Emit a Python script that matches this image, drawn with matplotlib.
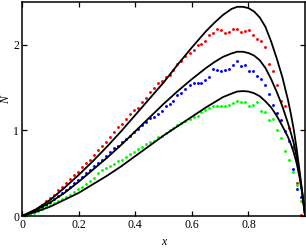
import matplotlib
matplotlib.use("Agg")
import matplotlib.pyplot as plt

plt.rcParams["font.family"] = ["Liberation Serif", "DejaVu Serif"]

# sampled points (shared x grid)
x_pts = [0.000, 0.014, 0.028, 0.042, 0.056, 0.070, 0.085, 0.099, 0.113, 0.127,
         0.141, 0.155, 0.169, 0.183, 0.197, 0.211, 0.225, 0.239, 0.254, 0.268,
         0.282, 0.296, 0.310, 0.324, 0.338, 0.352, 0.366, 0.380, 0.394, 0.408,
         0.423, 0.437, 0.451, 0.465, 0.479, 0.493, 0.507, 0.521, 0.535, 0.549,
         0.563, 0.577, 0.592, 0.606, 0.620, 0.634, 0.648, 0.662, 0.676, 0.690,
         0.704, 0.718, 0.732, 0.746, 0.761, 0.775, 0.789, 0.803, 0.817, 0.831,
         0.845, 0.859, 0.873, 0.887, 0.901, 0.915, 0.930, 0.944, 0.958, 0.972,
         0.986]

red_pts = [0.00, 0.01, 0.035, 0.065, 0.095, 0.13, 0.175, 0.21, 0.25, 0.30,
           0.34, 0.38, 0.43, 0.48, 0.52, 0.57, 0.62, 0.66, 0.71, 0.77,
           0.82, 0.87, 0.92, 0.98, 1.04, 1.08, 1.13, 1.19, 1.24, 1.26,
           1.33, 1.38, 1.45, 1.50, 1.55, 1.58, 1.62, 1.65, 1.71, 1.78,
           1.81, 1.87, 1.90, 1.94, 2.00, 2.01, 2.04, 2.12, 2.14, 2.19,
           2.17, 2.14, 2.15, 2.18, 2.19, 2.15, 2.16, 2.17, 2.11, 2.07,
           2.05, 1.98, 1.78, 1.70, 1.53, 1.35, 1.29, 1.03, 0.81, 0.39,
           0.01]

blue_pts = [0.00, 0.01, 0.03, 0.05, 0.075, 0.10, 0.13, 0.165, 0.20, 0.235,
            0.27, 0.30, 0.34, 0.38, 0.42, 0.46, 0.50, 0.54, 0.58, 0.62,
            0.66, 0.70, 0.75, 0.79, 0.82, 0.86, 0.90, 0.93, 0.98, 1.02,
            1.06, 1.10, 1.15, 1.16, 1.19, 1.23, 1.28, 1.31, 1.35, 1.41,
            1.44, 1.49, 1.53, 1.55, 1.55, 1.56, 1.59, 1.62, 1.72, 1.71,
            1.70, 1.71, 1.72, 1.76, 1.81, 1.75, 1.76, 1.69, 1.70, 1.64,
            1.60, 1.53, 1.43, 1.30, 1.20, 1.12, 0.99, 0.88, 0.55, 0.32,
            0.22]

green_pts = [0.00, 0.01, 0.025, 0.04, 0.06, 0.08, 0.10, 0.125, 0.15, 0.175,
             0.20, 0.225, 0.25, 0.28, 0.31, 0.34, 0.37, 0.41, 0.45, 0.50,
             0.54, 0.56, 0.58, 0.61, 0.64, 0.66, 0.69, 0.72, 0.75, 0.78,
             0.81, 0.84, 0.86, 0.88, 0.92, 0.94, 0.97, 1.00, 1.03, 1.06,
             1.09, 1.11, 1.13, 1.16, 1.17, 1.21, 1.24, 1.26, 1.28, 1.28,
             1.28, 1.29, 1.30, 1.32, 1.35, 1.33, 1.33, 1.29, 1.30, 1.33,
             1.23, 1.22, 1.12, 1.13, 1.00, 0.91, 0.76, 0.66, 0.51, 0.36,
             0.18]

# model curves
curve_x = [0.0, 0.05, 0.1, 0.15, 0.2, 0.25, 0.3, 0.35, 0.4, 0.45, 0.5, 0.55,
           0.6, 0.65, 0.68, 0.71, 0.74, 0.76, 0.78, 0.8, 0.82, 0.84, 0.86, 0.88,
           0.9, 0.92, 0.94, 0.95, 0.96, 0.97, 0.98, 0.99, 1.0]
curve_top = [0, 0.08, 0.19, 0.33, 0.48, 0.64, 0.81, 0.99, 1.18, 1.37, 1.56, 1.77,
             1.97, 2.16, 2.26, 2.35, 2.42, 2.445, 2.445, 2.43, 2.39, 2.32, 2.21, 2.04,
             1.84, 1.62, 1.35, 1.19, 1.01, 0.79, 0.54, 0.28, 0]
curve_mid = [0, 0.07, 0.16, 0.27, 0.40, 0.54, 0.68, 0.83, 0.99, 1.15, 1.31, 1.46,
             1.60, 1.73, 1.80, 1.86, 1.90, 1.92, 1.92, 1.905, 1.875, 1.82, 1.73, 1.60,
             1.45, 1.28, 1.08, 0.97, 0.85, 0.69, 0.50, 0.27, 0]
curve_low = [0, 0.05, 0.11, 0.19, 0.27, 0.37, 0.47, 0.58, 0.70, 0.82, 0.94, 1.05,
             1.16, 1.27, 1.33, 1.39, 1.43, 1.455, 1.46, 1.455, 1.435, 1.40, 1.34, 1.27,
             1.17, 1.05, 0.92, 0.84, 0.74, 0.62, 0.46, 0.26, 0]

fig = plt.figure(figsize=(3.06, 2.49), dpi=100)
ax = fig.add_axes([0.072, 0.1325, 0.925, 0.859])

for yv, col in [(red_pts, "#ff0000"), (blue_pts, "#0000ff"), (green_pts, "#00ff00")]:
    ax.plot(x_pts, yv, "o", color=col, ms=2.1, mec="none", zorder=2)

for yv in (curve_top, curve_mid, curve_low):
    ax.plot(curve_x, yv, "-", color="black", lw=1.3, zorder=3)

ax.set_xlim(0, 1.0)
ax.set_ylim(0, 2.5)
ax.set_xticks([0, 0.2, 0.4, 0.6, 0.8])
ax.set_xticklabels(["0", "0.2", "0.4", "0.6", "0.8"])
ax.set_yticks([0, 1, 2])
ax.tick_params(direction="in", top=True, right=True, length=3.5, width=0.9,
               labelsize=8.5, pad=2)
for sp in ax.spines.values():
    sp.set_linewidth(1.1)

ax.set_xlabel("x", style="italic", fontsize=8.5, labelpad=4)
ax.set_ylabel("N", style="italic", fontsize=8.5)
ax.yaxis.set_label_coords(-0.034, 0.54)

fig.savefig("out.png", dpi=100)
